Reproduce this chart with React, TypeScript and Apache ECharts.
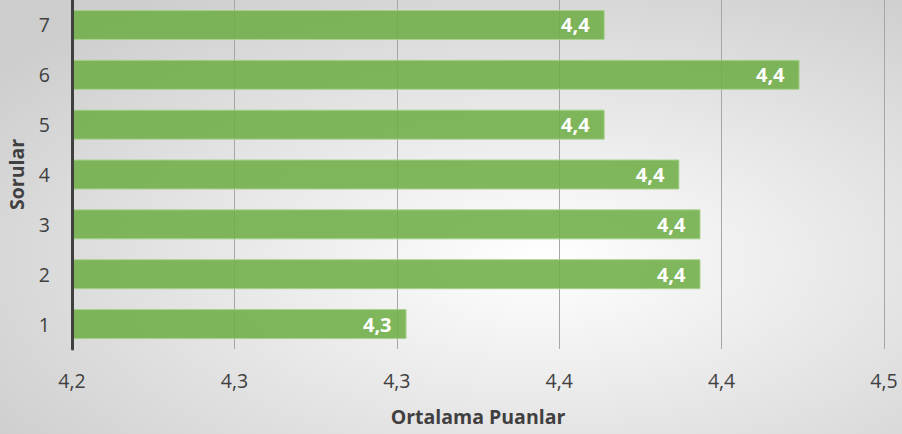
import React, { useEffect, useRef } from "react";
import * as echarts from "echarts";

const categories = ["1", "2", "3", "4", "5", "6", "7"];
const values = [4.303, 4.3935, 4.3935, 4.387, 4.364, 4.424, 4.364];
const xTickValues = [4.2, 4.25, 4.3, 4.35, 4.4, 4.45];
const xTickLabels = ["4,2", "4,3", "4,3", "4,4", "4,4", "4,5"];
const xTitle = "Ortalama Puanlar";
const yTitle = "Sorular";

export default function App() {
  const ref = useRef<HTMLDivElement>(null);
  useEffect(() => {
    if (!ref.current) return;
    const chart = echarts.init(ref.current, null, { renderer: "svg" });
    const font = "'Open Sans', 'Liberation Sans', sans-serif";
    chart.setOption({
      animation: false,
      backgroundColor: {
        type: "radial",
        x: 0.6,
        y: 0.6,
        r: 0.75,
        colorStops: [
          { offset: 0, color: "#ffffff" },
          { offset: 1, color: "#cdcdcd" },
        ],
      },
      grid: { left: 72, right: 18, top: 0, bottom: 85, containLabel: false, outerBoundsMode: "none" },
      xAxis: {
        type: "value",
        min: xTickValues[0],
        max: xTickValues[xTickValues.length - 1],
        interval: 0.05,
        name: xTitle,
        nameLocation: "middle",
        nameGap: 57,
        nameTextStyle: { fontFamily: font, fontSize: 19.5, fontWeight: "bold", color: "#404040" },
        axisLine: { show: false },
        axisTick: { show: false },
        splitLine: { show: true, lineStyle: { color: "#a6a6a6", width: 1 } },
        axisLabel: {
          margin: 21,
          fontFamily: font,
          fontSize: 19.5,
          color: "#404040",
          formatter: (v: number) => {
            const i = Math.round((v - xTickValues[0]) / 0.05);
            return xTickLabels[i] ?? "";
          },
        },
      },
      yAxis: {
        type: "category",
        data: categories,
        z: 5,
        name: yTitle,
        nameLocation: "middle",
        nameGap: 46,
        nameRotate: 90,
        nameTextStyle: { fontFamily: font, fontSize: 19.5, fontWeight: "bold", color: "#404040" },
        axisLine: { show: true, lineStyle: { color: "#404040", width: 3 } },
        axisTick: { show: false },
        axisLabel: { margin: 22, fontFamily: font, fontSize: 19.5, color: "#404040" },
      },
      series: [
        {
          type: "bar",
          data: values,
          barWidth: 30,
          itemStyle: {
            color: "rgba(112,173,71,0.88)",
            borderColor: "#a9d18e",
            borderWidth: 1,
          },
          label: {
            show: true,
            position: "insideRight",
            distance: 15,
            color: "#ffffff",
            fontFamily: font,
            fontWeight: "bold",
            fontSize: 20,
            formatter: (p: any) => (Math.round(p.value * 10) / 10).toFixed(1).replace(".", ","),
          },
        },
      ],
    });
    return () => chart.dispose();
  }, []);
  return <div ref={ref} style={{ width: 902, height: 434, position: "absolute", left: 0, top: 0 }} />;
}
